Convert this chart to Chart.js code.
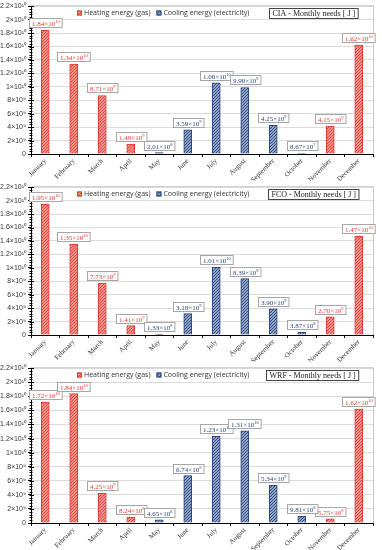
<!DOCTYPE html>
<html>
<head>
<meta charset="utf-8">
<script src="https://cdn.jsdelivr.net/npm/chart.js@4"></script>
<style>
  body { margin: 0; background: #fff; }
  canvas { position: absolute; left: 0; }
</style>
</head>
<body>
<canvas id="c1" width="382" height="181" style="top:0px"></canvas>
<canvas id="c2" width="382" height="181" style="top:181px"></canvas>
<canvas id="c3" width="382" height="188" style="top:362px"></canvas>
<script>
const months = ['January', 'February', 'March', 'April', 'May', 'June', 'July', 'August', 'September', 'October', 'November', 'December'];
const yTickValues = [0, 2e9, 4e9, 6e9, 8e9, 1e10, 1.2e10, 1.4e10, 1.6e10, 1.8e10, 2e10, 2.2e10];

// CIA
const ciaHeating = [1.84e10, 1.34e10, 8.71e9, 1.49e9, null, null, null, null, null, null, 4.15e9, 1.62e10];
const ciaCooling = [null, null, null, null, 2.01e8, 3.59e9, 1.06e10, 9.90e9, 4.25e9, 8.67e7, null, null];
// FCO
const fcoHeating = [1.95e10, 1.35e10, 7.73e9, 1.41e9, null, null, null, null, null, null, 2.70e9, 1.47e10];
const fcoCooling = [null, null, null, null, 1.33e8, 3.18e9, 1.01e10, 8.39e9, 3.90e9, 3.87e8, null, null];
// WRF
const wrfHeating = [1.72e10, 1.84e10, 4.25e9, 8.24e8, null, null, null, null, null, null, 5.75e8, 1.62e10];
const wrfCooling = [null, null, null, null, 4.65e8, 6.74e9, 1.23e10, 1.31e10, 5.34e9, 9.81e8, null, null];

const RED = '#e5352c';
const BLUE = '#27457e';
const sup = {'0':'⁰','1':'¹','2':'²','3':'³','4':'⁴','5':'⁵','6':'⁶','7':'⁷','8':'⁸','9':'⁹','-':'⁻'};

function splitSci(v, digits) {
  const e = Math.floor(Math.log10(v));
  const m = v / Math.pow(10, e);
  return { m: digits == null ? String(parseFloat(m.toFixed(2))) : m.toFixed(digits), e: e };
}

function tickLabel(v) {
  if (v === 0) return '0';
  const s = splitSci(v);
  return s.m + '×10' + String(s.e).split('').map(c => sup[c]).join('');
}

function hatch(line, bg) {
  const c = document.createElement('canvas');
  c.width = 3; c.height = 3;
  const x = c.getContext('2d');
  x.fillStyle = bg;
  x.fillRect(0, 0, 3, 3);
  x.strokeStyle = line;
  x.lineWidth = 1.2;
  x.beginPath();
  x.moveTo(-1, 4); x.lineTo(4, -1);
  x.moveTo(-1, 1); x.lineTo(1, -1);
  x.moveTo(2, 4); x.lineTo(4, 2);
  x.stroke();
  return x.createPattern(c, 'repeat');
}

const redPattern = hatch(RED, '#f8c9c4');
const bluePattern = hatch(BLUE, '#c9d2e4');

// labels above bars, minor ticks, legend and title box
const extras = {
  id: 'extras',
  beforeDatasetsDraw(chart) {
    const { ctx, chartArea: a } = chart;
    ctx.save();
    ctx.strokeStyle = '#c8c8c8';
    ctx.lineWidth = 1;
    ctx.beginPath();
    ctx.moveTo(a.left, a.top + 0.5 - 1);
    ctx.lineTo(a.right + 0.5, a.top + 0.5 - 1);
    ctx.lineTo(a.right + 0.5, a.bottom);
    ctx.stroke();
    // minor ticks on the y axis
    const y = chart.scales.y;
    ctx.strokeStyle = '#000';
    ctx.beginPath();
    for (let v = 0; v <= 2.2e10 + 1; v += 4e8) {
      const py = Math.round(y.getPixelForValue(v)) + 0.5;
      ctx.moveTo(a.left - 1.5, py);
      ctx.lineTo(a.left + 1.5, py);
    }
    for (const v of yTickValues) {
      const py = Math.round(y.getPixelForValue(v)) + 0.5;
      ctx.moveTo(a.left, py);
      ctx.lineTo(a.left + 3, py);
    }
    ctx.stroke();
    ctx.restore();
  },
  afterDatasetsDraw(chart, args, opts) {
    const { ctx, chartArea: a } = chart;
    ctx.save();
    chart.data.datasets.forEach((ds, i) => {
      const meta = chart.getDatasetMeta(i);
      meta.data.forEach((el, j) => {
        const v = ds.data[j];
        if (v == null) return;
        const s = splitSci(v, 2);
        const base = s.m + '×10';
        const ex = String(s.e);
        ctx.font = '7px "Liberation Serif"';
        const wb = ctx.measureText(base).width;
        ctx.font = '4.5px "Liberation Serif"';
        const we = ctx.measureText(ex).width;
        const w = wb + we + 5;
        const h = 9;
        const bx = Math.round(el.x - w / 2) + 0.5;
        const by = Math.round(el.y - 3 - h) + 0.5;
        ctx.fillStyle = '#fff';
        ctx.strokeStyle = '#a6a6a6';
        ctx.lineWidth = 1;
        ctx.fillRect(bx, by, w, h);
        ctx.strokeRect(bx, by, w, h);
        ctx.fillStyle = ds.labelColor;
        ctx.textBaseline = 'alphabetic';
        ctx.textAlign = 'left';
        ctx.font = '7px "Liberation Serif"';
        ctx.fillText(base, bx + 2.5, by + 7);
        ctx.font = '4.5px "Liberation Serif"';
        ctx.fillText(ex, bx + 2.5 + wb, by + 4);
      });
    });

    // legend
    let lx = 77;
    const ly = 13;
    ctx.font = '7px "Open Sans"';
    ctx.textBaseline = 'middle';
    chart.data.datasets.forEach(ds => {
      ctx.fillStyle = ds.backgroundColor;
      ctx.fillRect(lx, ly - 2.5, 5, 5);
      ctx.strokeStyle = ds.borderColor;
      ctx.strokeRect(lx + 0.5, ly - 2, 4, 4);
      ctx.fillStyle = '#333';
      ctx.fillText(ds.label, lx + 7, ly);
      lx += 7 + ctx.measureText(ds.label).width + 6;
    });

    // title box
    ctx.font = '8px "Liberation Serif"';
    const t = opts.title;
    const tw = ctx.measureText(t).width + 6;
    const tx = Math.round(a.right - 15 - tw) + 0.5;
    ctx.fillStyle = '#fff';
    ctx.fillRect(tx, 8.5, tw, 10);
    ctx.strokeStyle = '#444';
    ctx.strokeRect(tx, 8.5, tw, 10);
    ctx.fillStyle = '#222';
    ctx.textAlign = 'left';
    ctx.fillText(t, tx + 3, 14);
    ctx.restore();
  }
};

function makeChart(id, title, heating, cooling) {
  const ctx = document.getElementById(id).getContext('2d');
  return new Chart(ctx, {
    type: 'bar',
    data: {
      labels: months,
      datasets: [{
        label: 'Heating energy (gas)',
        data: heating,
        backgroundColor: redPattern,
        borderColor: RED,
        borderWidth: 1,
        labelColor: RED
      }, {
        label: 'Cooling energy (electricity)',
        data: cooling,
        backgroundColor: bluePattern,
        borderColor: BLUE,
        borderWidth: 1,
        labelColor: BLUE
      }]
    },
    plugins: [extras],
    options: {
      responsive: false,
      animation: false,
      devicePixelRatio: 1,
      layout: { padding: { top: 6, right: 9, left: 0, bottom: 0 } },
      datasets: { bar: { grouped: false, barThickness: 8 } },
      plugins: {
        legend: { display: false },
        tooltip: { enabled: false },
        extras: { title: title }
      },
      scales: {
        x: {
          offset: true,
          grid: { display: true, drawOnChartArea: false, offset: true, tickLength: 3, tickColor: '#000' },
          border: { color: '#000', width: 1 },
          ticks: {
            minRotation: 45, maxRotation: 45, padding: 0,
            color: '#333', font: { family: 'Liberation Serif', size: 7 }
          },
          afterFit(s) { s.height = 27; }
        },
        y: {
          min: 0, max: 2.2e10,
          afterBuildTicks(s) { s.ticks = yTickValues.map(v => ({ value: v })); },
          grid: { color: '#dcdcdc', tickColor: '#000', tickLength: 3 },
          border: { color: '#000', width: 1 },
          ticks: {
            padding: 2, color: '#333',
            font: { family: 'Liberation Sans', size: 7 },
            callback: v => tickLabel(v)
          },
          afterFit(s) { s.width = 31; }
        }
      }
    }
  });
}

makeChart('c1', 'CIA - Monthly needs [ J ]', ciaHeating, ciaCooling);
makeChart('c2', 'FCO - Monthly needs [ J ]', fcoHeating, fcoCooling);
makeChart('c3', 'WRF - Monthly needs [ J ]', wrfHeating, wrfCooling);
</script>
</body>
</html>
